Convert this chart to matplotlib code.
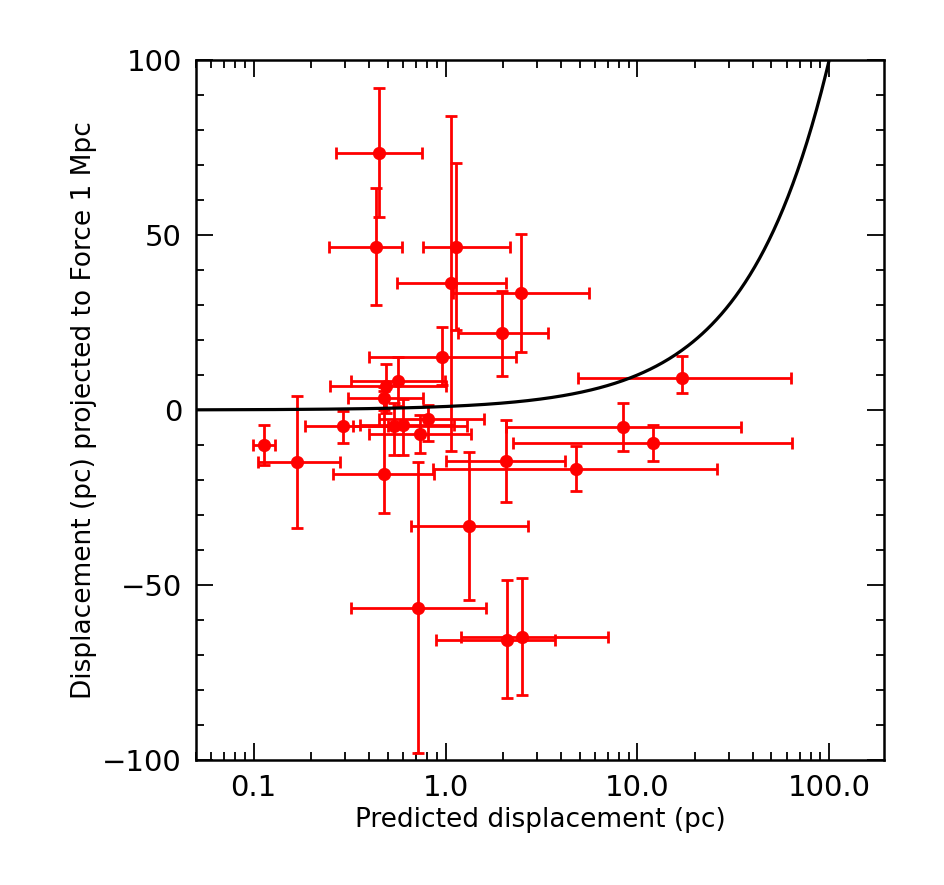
import numpy as np
import matplotlib
matplotlib.use("Agg")
import matplotlib.pyplot as plt
from matplotlib.ticker import LogLocator, NullFormatter, MultipleLocator

x    = [0.113, 0.169, 0.45, 0.435, 1.14, 1.07, 2.46, 1.97, 0.96, 0.565, 0.49, 0.48,
        0.292, 0.54, 0.60, 0.74, 0.81, 8.37, 12.1, 2.07, 4.8, 0.48, 1.33, 0.72, 2.1, 2.5, 17.1]
x_lo = [0.099, 0.105, 0.27, 0.246, 0.76, 0.555, 1.09, 1.16, 0.397, 0.32, 0.25, 0.31,
        0.186, 0.33, 0.36, 0.40, 0.45, 2.07, 2.24, 1.0, 0.86, 0.26, 0.66, 0.32, 0.89, 1.21, 4.9]
x_hi = [0.129, 0.28, 0.75, 0.595, 2.16, 2.07, 5.6, 3.4, 2.34, 0.99, 1.0, 0.76,
        0.50, 1.3, 1.1, 1.36, 1.58, 34.7, 64.0, 4.2, 26.0, 0.87, 2.68, 1.62, 3.7, 7.0, 63.5]
y    = [-10, -14.9, 73.5, 46.7, 46.7, 36.2, 33.3, 21.9, 15.2, 8.3, 6.9, 3.3,
        -4.6, -4.6, -4.3, -6.9, -2.7, -4.8, -9.3, -14.5, -16.9, -18.3, -33.1, -56.7, -65.7, -64.8, 9.1]
y_lo = [-15.7, -33.7, 55.2, 30, 22.9, -11.6, 16.5, 9.8, 7, 1, -1, 0,
        -9.3, -13, -13, -12.2, -9, -11.6, -14.5, -26.2, -23.1, -29.5, -54.3, -98, -82.4, -81.4, 4.9]
y_hi = [-4.3, 4, 92, 63.4, 70.5, 84, 50.3, 34.1, 23.6, 15, 13.1, 6.7,
        -0.2, 2, 3, -1.4, 1.4, 2, -4.3, -2.9, -10.3, 5.4, -11.9, -15, -48.6, -48.1, 15.4]

x = np.array(x); y = np.array(y)
xerr = [x - np.array(x_lo), np.array(x_hi) - x]
yerr = [y - np.array(y_lo), np.array(y_hi) - y]

fig = plt.figure(figsize=(9.44, 8.85), dpi=100)
ax = fig.add_axes([196/944, 1-760/885, (884-196)/944, 700/885])

ax.errorbar(x, y, xerr=xerr, yerr=yerr, fmt='o', color='red', ecolor='red',
            markersize=8.5, elinewidth=2, capsize=4, capthick=2, zorder=3)

xc = np.logspace(np.log10(0.05), np.log10(100), 400)
ax.plot(xc, xc, color='black', lw=2.3, zorder=4)

ax.set_xscale('log')
ax.set_xlim(0.05, 193)
ax.set_ylim(-100, 100)
ax.set_xticks([0.1, 1, 10, 100])
ax.set_xticklabels(['0.1', '1.0', '10.0', '100.0'])
ax.xaxis.set_minor_locator(LogLocator(base=10, subs=np.arange(2, 10)))
ax.xaxis.set_minor_formatter(NullFormatter())
ax.set_yticks([-100, -50, 0, 50, 100])
ax.yaxis.set_minor_locator(MultipleLocator(10))
ax.tick_params(which='both', direction='in', top=True, right=True, width=1.3)
ax.tick_params(which='major', length=12, labelsize=21, pad=10)
ax.tick_params(which='minor', length=6)
for s in ax.spines.values():
    s.set_linewidth(1.8)
ax.set_xlabel('Predicted displacement (pc)', fontsize=19)
ax.set_ylabel('Displacement (pc) projected to Force 1 Mpc', fontsize=19)
fig.savefig('out.png', dpi=100)
